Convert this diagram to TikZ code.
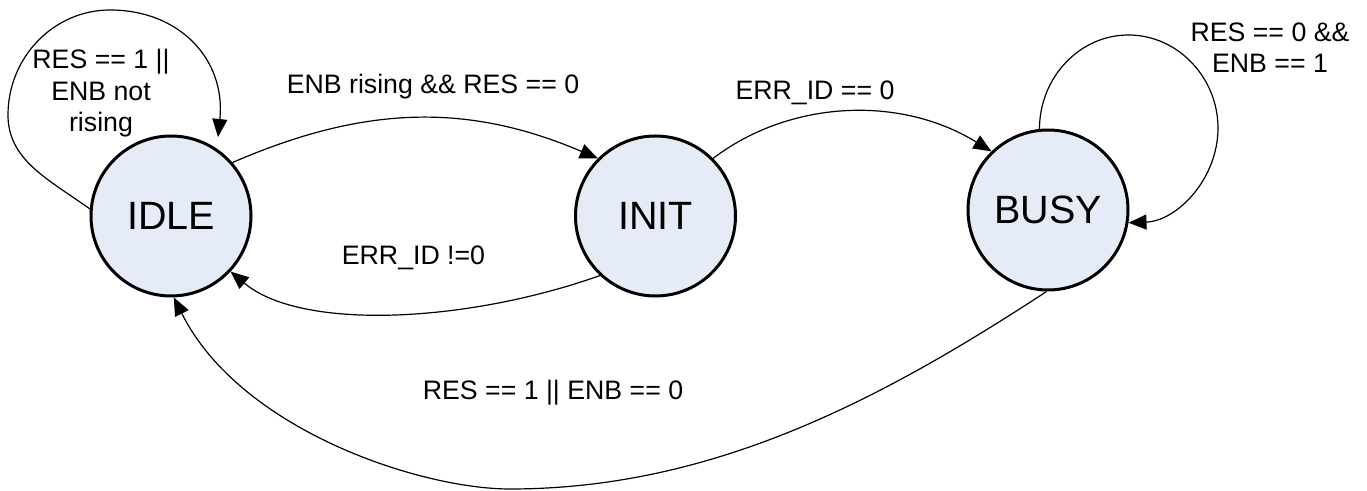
\documentclass[tikz,border=0pt]{standalone}
\usepackage{fontspec}
\setmainfont{Liberation Sans}
\usetikzlibrary{arrows.meta}
\definecolor{statefill}{RGB}{230,236,247}
\begin{document}
\begin{tikzpicture}[x=0.5pt,y=-0.5pt,
  state/.style={circle, draw=black, line width=1.5pt, fill=statefill, minimum size=80pt, inner sep=0pt, font=\fontsize{19.75}{23}\selectfont},
  trans/.style={draw=black, line width=0.6pt, -{Triangle[length=9pt,width=7.5pt]}},
  lbl/.style={font=\fontsize{13.35}{15.75}\selectfont, align=center, inner sep=0pt, anchor=base}]
\path[use as bounding box] (0,0) rectangle (1367,491);
\node[state] (IDLE) at (171,216) {IDLE};
\node[state] (INIT) at (655.5,216) {INIT};
\node[state] (BUSY) at (1048,210) {BUSY};
\coordinate (idleIn) at (218,137);
% self loop IDLE
\draw[trans] (IDLE.175) .. controls (48,179) and (8,160) .. (8,115)
  .. controls (8,57) and (54,10) .. (110,10)
  .. controls (180,10) and (226,60) .. (idleIn);
% IDLE -> INIT
\draw[trans] (IDLE.41) .. controls (365,105) and (468,103) .. (INIT.135);
% INIT -> BUSY
\draw[trans] (INIT.45) .. controls (790,100) and (900,95) .. (BUSY.134);
% INIT -> IDLE
\draw[trans] (INIT.227) .. controls (466,323) and (301,331) .. (IDLE.-43);
% BUSY -> IDLE
\draw[trans] (BUSY.-91) .. controls (878,402) and (710,489) .. (510,489)
  .. controls (420,489) and (240,430) .. (IDLE.-88);
% self loop BUSY
\draw[trans] (BUSY.96) .. controls (1039.5,78) and (1079,35) .. (1128.5,35)
  .. controls (1178,35) and (1218,78) .. (1218,128)
  .. controls (1218,179) and (1177,221) .. (BUSY.-9);
% labels (anchor=base sits on the last line's baseline)
\node[lbl] (l1) at (101,132) {RES == 1 ||\\ENB not\\rising};
\node[lbl] (l2) at (433,94) {ENB rising \&\& RES == 0};
\node[lbl] (l3) at (413.5,265) {ERR\_ID !=0};
\node[lbl] (l4) at (553,400) {RES == 1 || ENB == 0};
\node[lbl] (l5) at (1270,73) {RES == 0 \&\&\\ENB == 1};
\node[lbl] (l6) at (815,100) {ERR\_ID == 0};
\end{tikzpicture}
\end{document}
